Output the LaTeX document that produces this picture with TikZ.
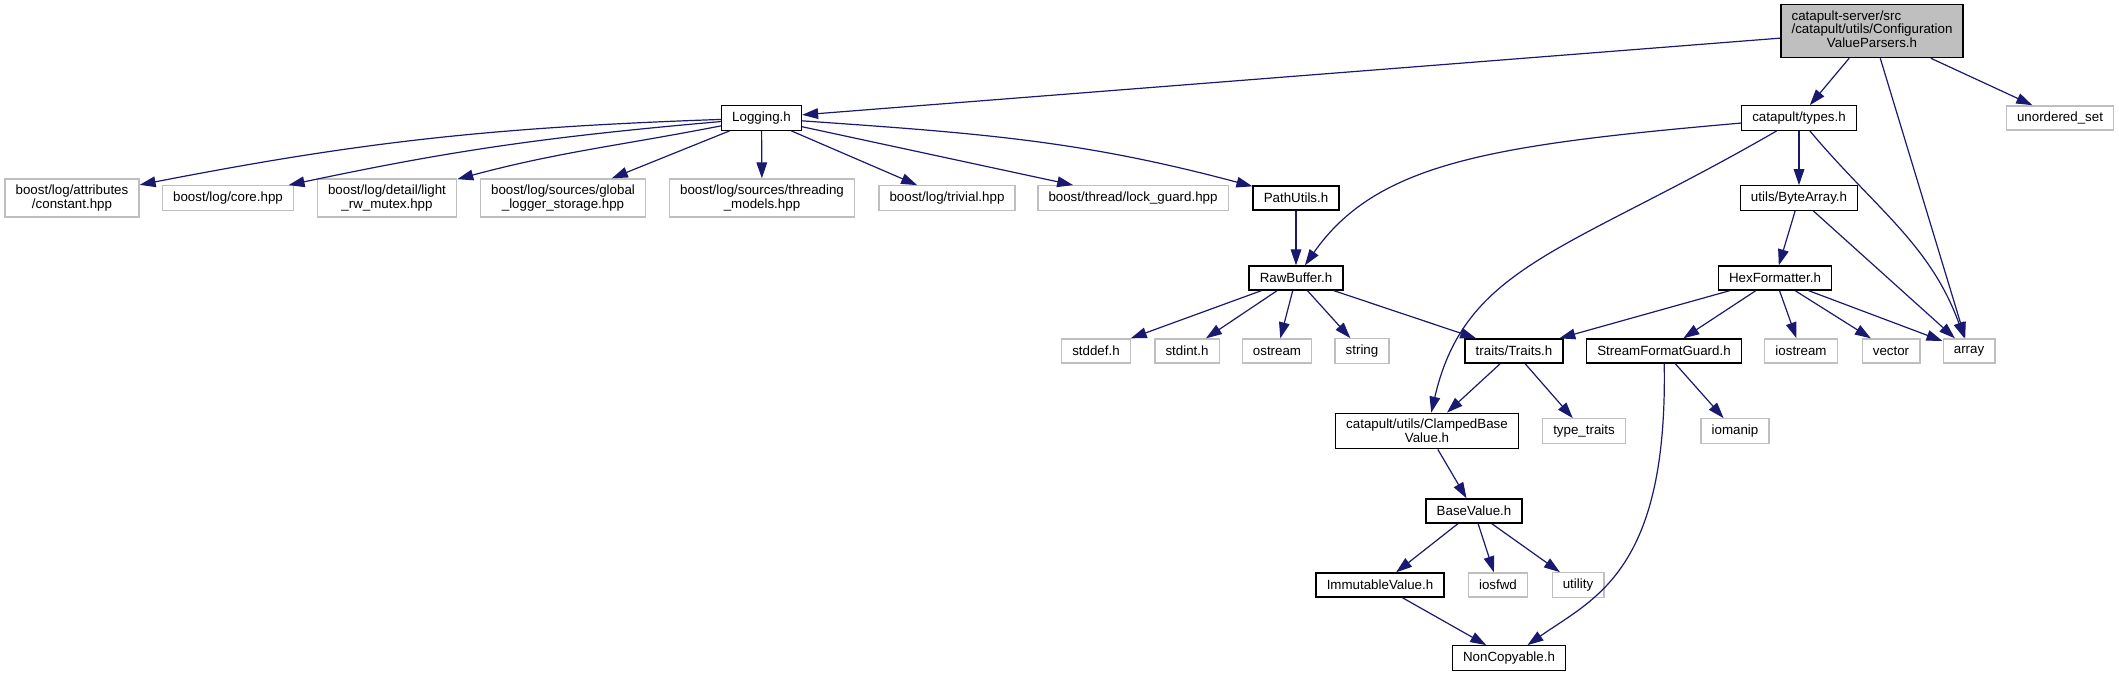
\documentclass[tikz,border=0pt]{standalone}
\usepackage{fontspec}
\setmainfont{Liberation Sans}
\usetikzlibrary{arrows.meta}
\definecolor{edgeblue}{RGB}{25,25,112}
\definecolor{boxgray}{RGB}{191,191,191}

\begin{document}
\begin{tikzpicture}[
    x=0.75pt, y=0.75pt,
    font=\fontsize{10}{10.2}\selectfont,
    box/.style={rectangle, minimum height=18pt, inner xsep=8pt, inner ysep=4.5pt, align=center, fill=white},
    doc/.style={box, draw=black, line width=1pt},
    ext/.style={box, draw=boxgray, line width=1pt},
    main/.style={doc, fill=boxgray},
    arrow/.style={-{Triangle[length=12pt,width=8pt]}, draw=edgeblue, line width=0.9pt}
]
\useasboundingbox (0,0) rectangle (2119,-676);

\node[main] (cvp) at (1872,-31) {\begin{tabular}{@{}l@{}}catapult-server/src\\/catapult/utils/Configuration\\\multicolumn{1}{@{}c@{}}{ValueParsers.h}\end{tabular}};

\node[doc] (log) at (761.5,-118) {Logging.h};
\node[doc] (typ) at (1799,-118) {catapult/types.h};
\node[ext] (us) at (2060,-118) {unordered\_set};

\node[ext] (bla) at (72,-198) {boost/log/attributes\\/constant.hpp};
\node[ext] (blc) at (228,-198) {boost/log/core.hpp};
\node[ext] (bld) at (387,-198) {boost/log/detail/light\\\_rw\_mutex.hpp};
\node[ext] (blg) at (563,-198) {boost/log/sources/global\\\_logger\_storage.hpp};
\node[ext] (blm) at (762,-198) {boost/log/sources/threading\\\_models.hpp};
\node[ext] (blt) at (947,-198) {boost/log/trivial.hpp};
\node[ext] (btl) at (1133,-198) {boost/thread/lock\_guard.hpp};
\node[doc] (pu) at (1296,-198) {PathUtils.h};
\node[doc] (ba) at (1799,-198) {utils/ByteArray.h};

\node[doc] (rb) at (1296,-278) {RawBuffer.h};
\node[doc] (hf) at (1775,-278) {HexFormatter.h};

\node[ext] (sd) at (1096,-351) {stddef.h};
\node[ext] (si) at (1187,-351) {stdint.h};
\node[ext] (os) at (1277,-351) {ostream};
\node[ext] (st) at (1362,-351) {string};
\node[doc] (tr) at (1514,-351) {traits/Traits.h};
\node[doc] (sfg) at (1664,-351) {StreamFormatGuard.h};
\node[ext] (ios) at (1801,-351) {iostream};
\node[ext] (vec) at (1891,-351) {vector};
\node[ext] (arr) at (1969,-351) {array};

\node[doc] (cbv) at (1427,-431) {catapult/utils/ClampedBase\\Value.h};
\node[ext] (tt) at (1584,-431) {type\_traits};
\node[ext] (iom) at (1735,-431) {iomanip};

\node[doc] (bv) at (1474,-511) {BaseValue.h};

\node[doc] (iv) at (1380,-585) {ImmutableValue.h};
\node[ext] (ifw) at (1498,-585) {iosfwd};
\node[ext] (ut) at (1578,-585) {utility};

\node[doc] (nc) at (1509,-658) {NonCopyable.h};

\draw[arrow] (cvp) -- (log);
\draw[arrow] (cvp) -- (typ);
\draw[arrow] (cvp) -- (arr);
\draw[arrow] (cvp) -- (us);
\draw[arrow] (log) to[out=182,in=11] (bla);
\draw[arrow] (log) to[out=185,in=12] (blc);
\draw[arrow] (log) to[out=191,in=15] (bld);
\draw[arrow] (log) -- (blg);
\draw[arrow] (log) -- (blm);
\draw[arrow] (log) -- (blt);
\draw[arrow] (log) -- (btl);
\draw[arrow] (log) to[out=-4,in=165] (pu);
\draw[arrow] (typ) to[out=185,in=55,out looseness=1.4,in looseness=0.7] (rb);
\draw[arrow] (typ) to[out=210,in=77,out looseness=1.4,in looseness=0.87] (cbv);
\draw[arrow] (typ) -- (ba);
\draw[arrow] (typ) to[out=-50,in=110] (arr);
\draw[arrow] (ba) -- (hf);
\draw[arrow] (ba) -- (arr);
\draw[arrow] (pu) -- (rb);
\draw[arrow] (rb) -- (sd);
\draw[arrow] (rb) -- (si);
\draw[arrow] (rb) -- (os);
\draw[arrow] (rb) -- (st);
\draw[arrow] (rb) -- (tr);
\draw[arrow] (hf) -- (tr);
\draw[arrow] (hf) -- (sfg);
\draw[arrow] (hf) -- (ios);
\draw[arrow] (hf) -- (vec);
\draw[arrow] (hf) -- (arr);
\draw[arrow] (tr) -- (cbv);
\draw[arrow] (tr) -- (tt);
\draw[arrow] (sfg) -- (iom);
\draw[arrow] (sfg) to[out=-89,in=35,out looseness=1.7,in looseness=0.67] (nc);
\draw[arrow] (cbv) -- (bv);
\draw[arrow] (bv) -- (iv);
\draw[arrow] (bv) -- (ifw);
\draw[arrow] (bv) -- (ut);
\draw[arrow] (iv) -- (nc);
\end{tikzpicture}
\end{document}
